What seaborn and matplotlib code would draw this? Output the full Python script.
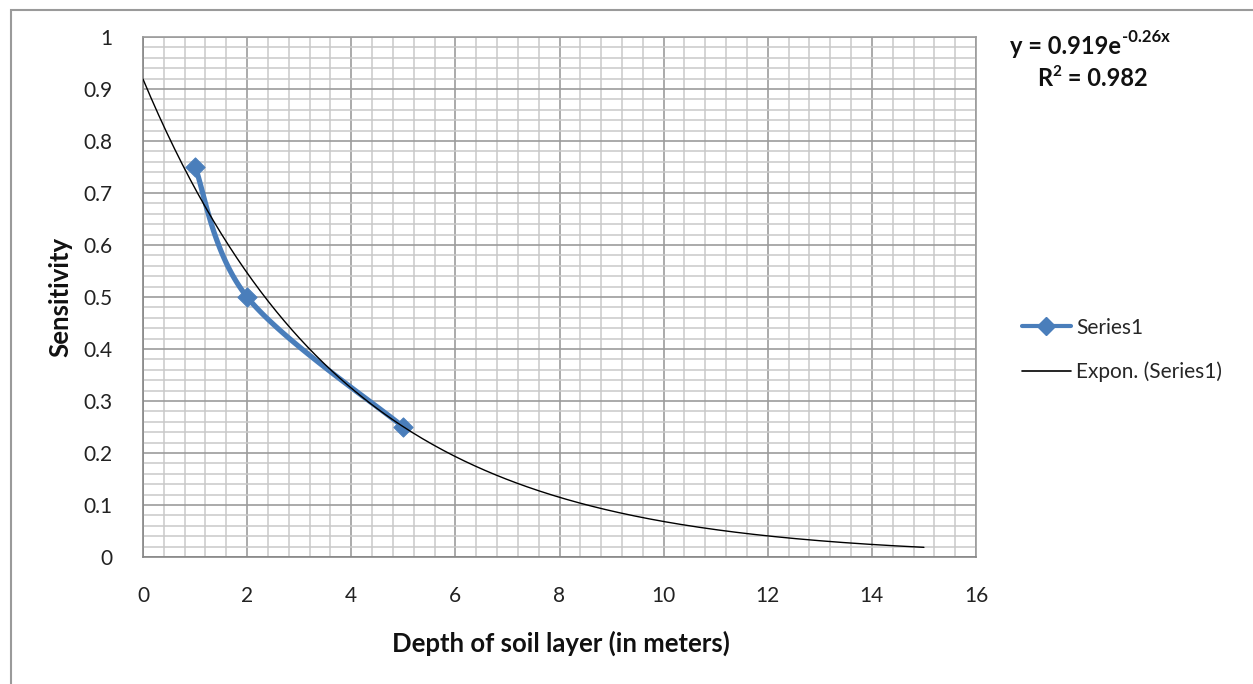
import numpy as np
import pandas as pd
import seaborn as sns
import matplotlib
matplotlib.use("Agg")
import matplotlib.pyplot as plt
from matplotlib.patches import Rectangle
from matplotlib.lines import Line2D

# ---- data ----
depth = [1, 2, 5]
sensitivity = [0.75, 0.5, 0.25]
trend_a = 0.919
trend_b = -0.26
trend_range = [0, 15]
x_ticks = [0, 2, 4, 6, 8, 10, 12, 14, 16]
y_ticks = [0, 0.1, 0.2, 0.3, 0.4, 0.5, 0.6, 0.7, 0.8, 0.9, 1]
y_tick_labels = ["0", "0.1", "0.2", "0.3", "0.4", "0.5", "0.6", "0.7", "0.8", "0.9", "1"]
x_label = "Depth of soil layer (in meters)"
y_label = "Sensitivity"
series_name = "Series1"
trend_name = "Expon. (Series1)"
eq_main = "y = 0.919e"
eq_exp = "-0.26x"
r2_main = "R"
r2_sup = "2"
r2_rest = " = 0.982"

sns.set_theme(style="white")
plt.rcParams['font.family'] = ['Lato', 'DejaVu Sans']

W, H = 1253, 684
fig = plt.figure(figsize=(W / 100, H / 100), dpi=100)
ax = fig.add_axes([143 / W, 1 - 557 / H, (976 - 143) / W, (557 - 37) / H])

# outer chart border
fig.patches.append(Rectangle((10.5 / W, -0.1), 1.2, 1 - 10.5 / H + 0.1,
                             transform=fig.transFigure, fill=False,
                             edgecolor="#9a9a9a", linewidth=1.5))

# smooth series line (Excel-style bezier smoothing in pixel space)
sx, sy = 52.0, 520.0
P = np.column_stack([np.array(depth) * sx, np.array(sensitivity) * sy])
pts = []
n = len(P)
for i in range(n - 1):
    p0 = P[i - 1] if i > 0 else P[i]
    p1 = P[i]
    p2 = P[i + 1]
    p3 = P[i + 2] if i + 2 < n else P[i + 1]
    c1 = p1 + (p2 - p0) / 6.0
    c2 = p2 - (p3 - p1) / 6.0
    t = np.linspace(0, 1, 60)[:, None]
    seg = ((1 - t) ** 3) * p1 + 3 * ((1 - t) ** 2) * t * c1 + 3 * (1 - t) * t ** 2 * c2 + t ** 3 * p2
    pts.append(seg if i == 0 else seg[1:])
pts = np.vstack(pts)
smooth_df = pd.DataFrame({"x": pts[:, 0] / sx, "y": pts[:, 1] / sy})

tx = np.linspace(trend_range[0], trend_range[1], 300)
trend_df = pd.DataFrame({"x": tx, "y": trend_a * np.exp(trend_b * tx)})

blue = "#4a7ebb"
sns.lineplot(data=smooth_df, x="x", y="y", ax=ax, color=blue, linewidth=3.8,
             sort=False, estimator=None, zorder=3)
sns.scatterplot(x=depth, y=sensitivity, ax=ax, marker="D", s=95, color=blue,
                edgecolor=blue, zorder=4)
sns.lineplot(data=trend_df, x="x", y="y", ax=ax, color="black", linewidth=1.0,
             estimator=None, zorder=5)

ax.set_xlim(0, 16)
ax.set_ylim(0, 1)
ax.set_xticks(x_ticks)
ax.set_xticklabels([str(v) for v in x_ticks])
ax.set_yticks(y_ticks)
ax.set_yticklabels(y_tick_labels)
ax.set_xticks(np.arange(0, 16.01, 0.4), minor=True)
ax.set_yticks(np.arange(0, 1.001, 0.02), minor=True)
ax.grid(which="minor", color="#c9c9c9", linewidth=1.1, zorder=0)
ax.grid(which="major", color="#9c9c9c", linewidth=1.2, zorder=0)
ax.set_axisbelow(True)

for side in ["top", "right"]:
    ax.spines[side].set_color("#9c9c9c")
    ax.spines[side].set_linewidth(1.2)
for side in ["left", "bottom"]:
    ax.spines[side].set_color("#868686")
    ax.spines[side].set_linewidth(1.2)

ax.tick_params(axis="both", which="major", direction="out", length=6, width=1.0,
               color="#868686", labelsize=15, labelcolor="#222222")
ax.tick_params(axis="y", pad=16)
ax.tick_params(axis="x", pad=15)
ax.tick_params(axis="both", which="minor", length=0)

ax.set_xlabel(x_label, fontsize=18.5, fontweight="bold", color="#111111")
ax.set_ylabel(y_label, fontsize=18.5, fontweight="bold", color="#111111")
ax.xaxis.set_label_coords((561 - 143) / (976 - 143), -(643 - 557) / (557 - 37))
ax.yaxis.set_label_coords(-(143 - 60) / (976 - 143), (557 - 297) / (557 - 37))
ax.xaxis.label.set_va("center")
ax.yaxis.label.set_va("center")

# equation annotation
fs_eq = 17
t1 = fig.text(1010 / W, 1 - 46 / H, eq_main, fontsize=fs_eq, fontweight="bold",
              ha="left", va="center", color="#111111")
fig.canvas.draw()
r = fig.canvas.get_renderer()
bb = t1.get_window_extent(r)
fig.text((bb.x1 + 1) / W, 1 - 37 / H, eq_exp, fontsize=12, fontweight="bold",
         ha="left", va="center", color="#111111")
t2 = fig.text(1037 / W, 1 - 79 / H, r2_main, fontsize=fs_eq, fontweight="bold",
              ha="left", va="center", color="#111111")
bb2 = t2.get_window_extent(r)
t3 = fig.text((bb2.x1 + 0.5) / W, 1 - 72 / H, r2_sup, fontsize=11, fontweight="bold",
              ha="left", va="center", color="#111111")
bb3 = t3.get_window_extent(r)
fig.text(bb3.x1 / W, 1 - 79 / H, r2_rest, fontsize=fs_eq, fontweight="bold",
         ha="left", va="center", color="#111111")

handles = [Line2D([], [], color=blue, linewidth=3.0, marker="D", markersize=9),
           Line2D([], [], color="black", linewidth=1.2)]
fig.legend(handles, [series_name, trend_name], loc="center left",
           bbox_to_anchor=(1022 / W, 1 - 350 / H), frameon=False, fontsize=15,
           handlelength=2.35, handletextpad=0.25, labelspacing=1.15, borderaxespad=0,
           borderpad=0)

fig.savefig("out.png", dpi=100)
